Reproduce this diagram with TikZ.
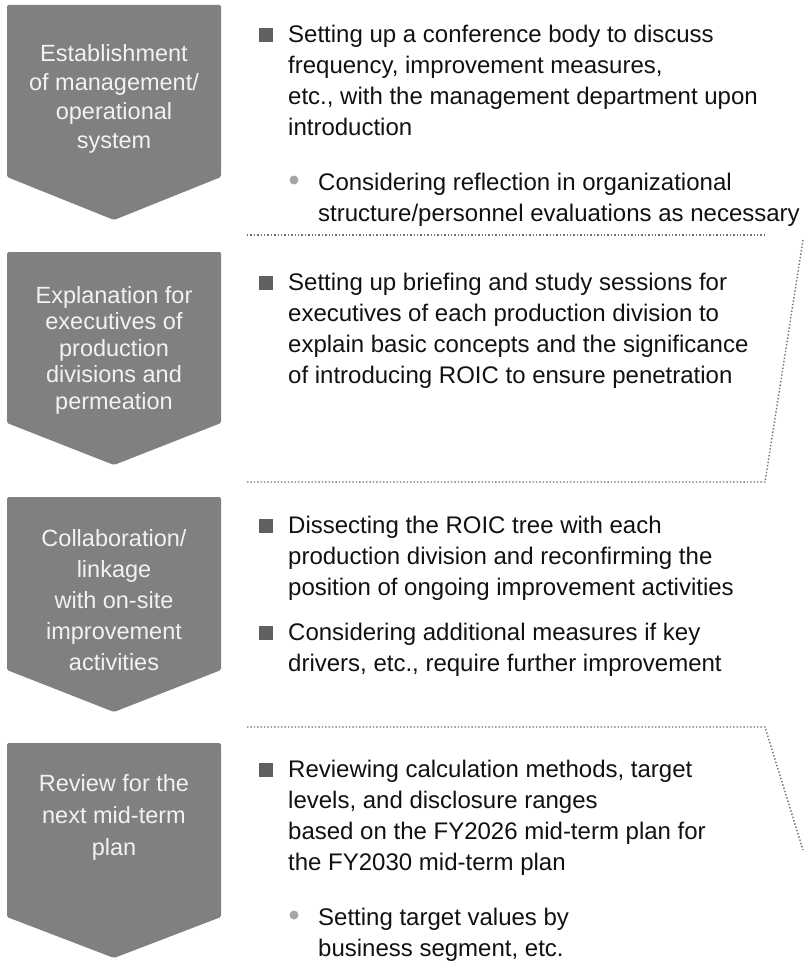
\documentclass[tikz,border=0pt]{standalone}
\usepackage{fontspec}
\setmainfont{Liberation Sans}
\definecolor{chevgray}{HTML}{808080}
\definecolor{lbltext}{HTML}{F2F2F2}
\definecolor{sqgray}{HTML}{606060}
\definecolor{dotgray}{HTML}{A6A6A6}
\definecolor{sepgray}{HTML}{707070}
\definecolor{bodytext}{HTML}{111111}

\begin{document}
\begin{tikzpicture}[
  x=1pt, y=-1pt,
  chev/.style={fill=chevgray, rounded corners=1.5pt},
  lbl/.style={anchor=north, align=center, text=lbltext, inner sep=0pt,
    font=\fontsize{23.5}{29}\selectfont},
  itm/.style={anchor=north west, align=left, inner sep=0pt, text=bodytext,
    font=\fontsize{24}{31}\selectfont},
  sq/.style={rectangle, fill=sqgray, inner sep=0pt, minimum size=14pt},
  subdot/.style={circle, fill=dotgray, inner sep=0pt, minimum size=9pt},
  sepline/.style={draw=sepgray, line width=1.4pt, dash pattern=on 1.4pt off 2pt}
]
  \useasboundingbox (0,0) rectangle (803,974);
  % the four downward chevrons
  \fill[chev] (7,5)   -- (221,5)   -- (221,177) -- (114,220) -- (7,177) -- cycle;
  \fill[chev] (7,252) -- (221,252) -- (221,423) -- (114,465) -- (7,423) -- cycle;
  \fill[chev] (7,497) -- (221,497) -- (221,670) -- (114,712) -- (7,670) -- cycle;
  \fill[chev] (7,743) -- (221,743) -- (221,917) -- (114,958) -- (7,917) -- cycle;
  % chevron labels
  \node[lbl] (c1) at (114,44)  {Establishment\\of management/\\operational\\system};
  \node[lbl, font=\fontsize{23.5}{26.5}\selectfont] (c2) at (114,286)
    {Explanation for\\executives of\\production\\divisions and\\permeation};
  \node[lbl, font=\fontsize{23.5}{31}\selectfont] (c3) at (114,529)
    {Collaboration/\\linkage\\with on-site\\improvement\\activities};
  \node[lbl, font=\fontsize{23.5}{32}\selectfont] (c4) at (114,774)
    {Review for the\\next mid-term\\plan};
  % dotted separators, with the slanted runs at the right edge
  \draw[sepline] (247,235) -- (765,235);
  \draw[sepline] (803,240) -- (765,482) -- (247,482);
  \draw[sepline] (247,727) -- (765,727) -- (803,850);
  % section 1
  \node[sq] (b1) at (266,35) {};
  \node[itm] (t1) at (288,24.5) {Setting up a conference body to discuss\\
    frequency, improvement measures,\\etc., with the management department upon\\introduction};
  \node[subdot] (d1) at (294,180) {};
  \node[itm] (t1a) at (318,172.5) {Considering reflection in organizational\\
    structure/personnel evaluations as necessary};
  % section 2
  \node[sq] (b2) at (266,283) {};
  \node[itm] (t2) at (288,272.5) {Setting up briefing and study sessions for\\
    executives of each production division to\\explain basic concepts and the significance\\
    of introducing ROIC to ensure penetration};
  % section 3
  \node[sq] (b3) at (266,526) {};
  \node[itm] (t3) at (288,515.5) {Dissecting the ROIC tree with each\\
    production division and reconfirming the\\position of ongoing improvement activities};
  \node[sq] (b3a) at (266,633) {};
  \node[itm] (t3a) at (288,622.5) {Considering additional measures if key\\
    drivers, etc., require further improvement};
  % section 4
  \node[sq] (b4) at (266,770) {};
  \node[itm] (t4) at (288,759.5) {Reviewing calculation methods, target\\
    levels, and disclosure ranges\\based on the FY2026 mid-term plan for\\the FY2030 mid-term plan};
  \node[subdot] (d4) at (294,915) {};
  \node[itm] (t4a) at (318,907.5) {Setting target values by\\business segment, etc.};
\end{tikzpicture}
\end{document}
